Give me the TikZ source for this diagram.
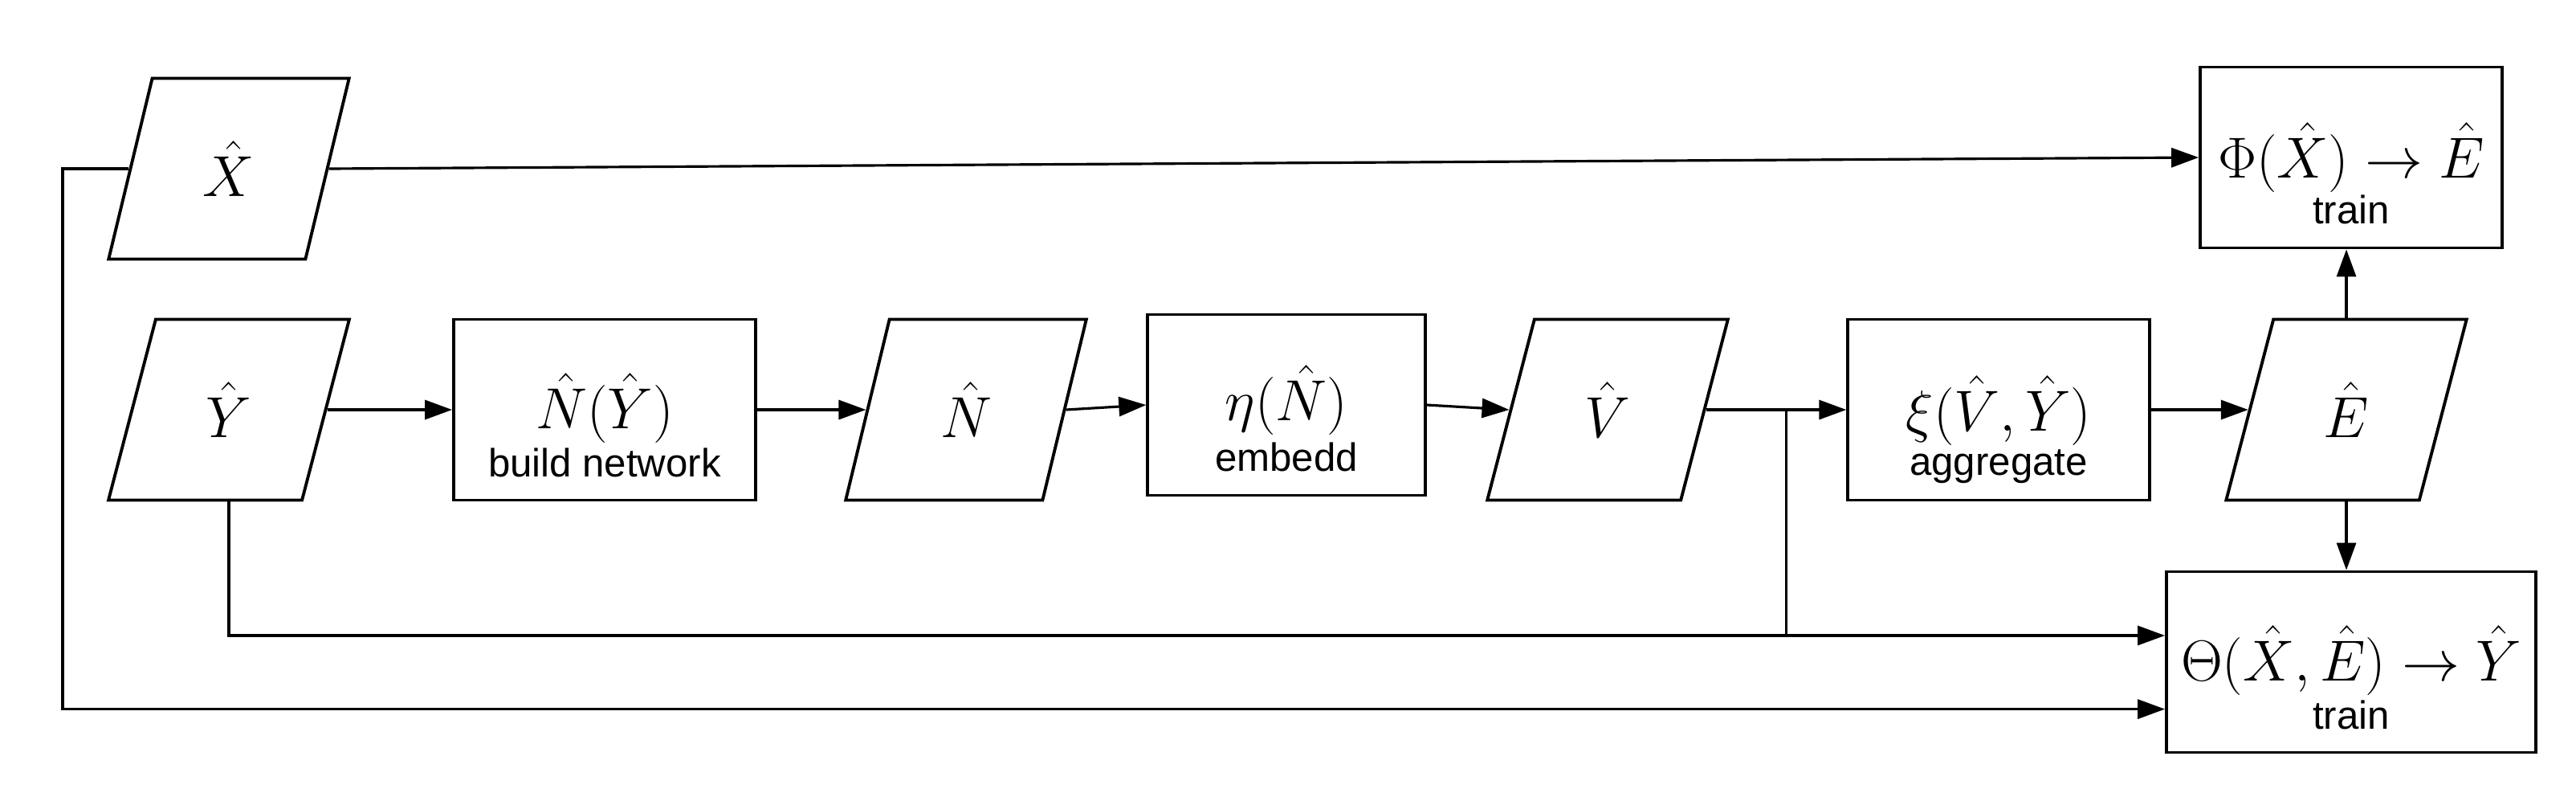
\RequirePackage{fix-cm}
\documentclass[tikz,border=0pt]{standalone}
\usepackage{fontspec}
\newfontfamily\sflabel{Liberation Sans}
\usetikzlibrary{arrows.meta,shapes.geometric,calc}
\tikzset{every picture/.style={line width=0.9pt}}

\begin{document}
\begin{tikzpicture}[
    >={Triangle[length=3.4mm,width=2.4mm]},
    data/.style={trapezium, trapezium left angle=75, trapezium right angle=105,
        trapezium stretches=true, draw, line width=1.1pt, minimum width=3cm,
        minimum height=2.25cm, inner sep=0pt, font=\fontsize{20.5}{24}\selectfont},
    proc/.style={rectangle, draw, line width=1.1pt, minimum height=2.25cm, inner sep=0pt},
    formula/.style={anchor=base, inner sep=0pt, font=\fontsize{20.5}{24}\selectfont},
    sub/.style={anchor=base, inner sep=0pt, font=\sflabel\fontsize{14}{16}\selectfont},
]
\useasboundingbox (0,0) rectangle (32.08,9.86);

% inputs
\node[data] (X) at (2.85,7.76) {$\hat{X}$};
\node[data] (Y) at (2.85,4.76) {$\hat{Y}$};

% main chain
\node[proc, minimum width=3.76cm] (build) at (7.53,4.76) {};
\node[formula] (buildf) at ([yshift=-2.3mm]build.center) {$\hat{N}(\hat{Y})$};
\node[sub] (buildtxt) at ([yshift=-6mm]buildf.base) {build network};
\node[data] (N) at (12.03,4.76) {$\hat{N}$};
\node[proc, minimum width=3.455cm] (embed) at (16.02,4.82) {};
\node[formula] (embedf) at ([yshift=-1.9mm]embed.center) {$\eta(\hat{N})$};
\node[sub] (embedtxt) at ([yshift=-6.3mm]embedf.base) {embedd};
\node[data] (V) at (20.02,4.76) {$\hat{V}$};
\node[proc, minimum width=3.755cm] (aggr) at (24.89,4.76) {};
\node[formula] (aggrf) at ([yshift=-2.6mm]aggr.center) {$\xi(\hat{V},\hat{Y})$};
\node[sub] (aggrtxt) at ([yshift=-5.5mm]aggrf.base) {aggregate};
\node[data] (E) at (29.22,4.76) {$\hat{E}$};

% models
\node[proc, minimum width=3.76cm] (phi) at (29.28,7.90) {};
\node[formula] (phif) at ([yshift=-2.5mm]phi.center) {$\Phi(\hat{X}) \rightarrow \hat{E}$};
\node[sub] (phitxt) at ([yshift=-5.7mm]phif.base) {train};
\node[proc, minimum width=4.6cm] (theta) at (29.28,1.62) {};
\node[formula] (thetaf) at ([yshift=-2.3mm]theta.center) {$\Theta(\hat{X},\hat{E}) \rightarrow \hat{Y}$};
\node[sub] (thetatxt) at ([yshift=-6mm]thetaf.base) {train};

% junctions
\coordinate (jn) at (22.245,4.76);
\coordinate (jb) at (22.245,1.95);
\coordinate (lb) at (0.78,1.034);

% connectors
\draw[->] (Y.right side) -- (build.west);
\draw[->] (build.east) -- (N.left side);
\draw[->] (N.right side) -- (embed.west);
\draw[->] (embed.east) -- (V.left side);
\draw[->] (V.right side) -- (aggr.west);
\draw[->] (aggr.east) -- (E.left side);
\draw[->] (E.top side -| E.center) -- (E.center |- phi.south);
\draw[->] (E.bottom side -| E.center) -- (E.center |- theta.north);
\draw[->] (X.right side) -- (phi.west);
\draw (jn) -- (jb);
\draw[->] (Y.bottom side -| Y.center) |- (jb) -- (jb -| theta.west);
\draw[->] (X.left side) -| (lb) -- (lb -| theta.west);
\end{tikzpicture}
\end{document}
